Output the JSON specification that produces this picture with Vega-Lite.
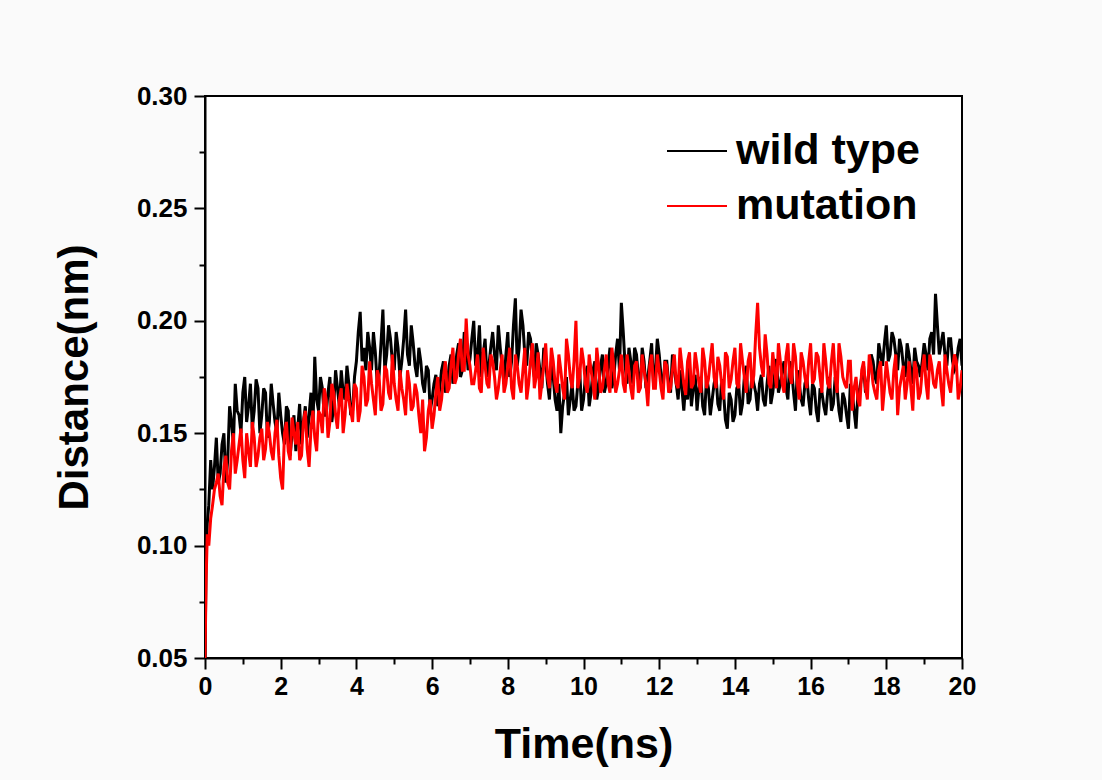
{
  "$schema": "https://vega.github.io/schema/vega-lite/v6.json",
  "autosize": "none",
  "width": 757,
  "height": 562,
  "padding": {"left": 205, "top": 96, "right": 140, "bottom": 122},
  "background": "#fafafa",
  "config": {
    "view": {"stroke": "#000000", "strokeWidth": 2, "fill": "#ffffff"},
    "font": "Liberation Sans"
  },
  "data": {
    "values": [
      {"t":0,"w":0.050,"m":0.050},{"t":0.03,"w":0.095,"m":0.085},{"t":0.06,"w":0.110,"m":0.105},
      {"t":0.1,"w":0.118,"m":0.100},{"t":0.15,"w":0.138,"m":0.112},
      {"t":0.2,"w":0.125,"m":0.118},{"t":0.25,"w":0.135,"m":0.125},
      {"t":0.3,"w":0.148,"m":0.128},{"t":0.35,"w":0.128,"m":0.132},
      {"t":0.4,"w":0.132,"m":0.122},{"t":0.45,"w":0.145,"m":0.118},
      {"t":0.5,"w":0.150,"m":0.135},{"t":0.55,"w":0.128,"m":0.140},
      {"t":0.6,"w":0.138,"m":0.128},{"t":0.65,"w":0.162,"m":0.125},
      {"t":0.7,"w":0.155,"m":0.142},{"t":0.75,"w":0.145,"m":0.150},
      {"t":0.8,"w":0.172,"m":0.132},{"t":0.85,"w":0.160,"m":0.138},
      {"t":0.9,"w":0.158,"m":0.145},{"t":0.95,"w":0.150,"m":0.152},
      {"t":1.0,"w":0.168,"m":0.138},{"t":1.05,"w":0.175,"m":0.130},
      {"t":1.1,"w":0.155,"m":0.150},{"t":1.15,"w":0.162,"m":0.142},
      {"t":1.2,"w":0.172,"m":0.135},{"t":1.25,"w":0.152,"m":0.155},
      {"t":1.3,"w":0.160,"m":0.148},{"t":1.35,"w":0.174,"m":0.135},
      {"t":1.4,"w":0.170,"m":0.140},{"t":1.45,"w":0.150,"m":0.148},
      {"t":1.5,"w":0.158,"m":0.152},{"t":1.55,"w":0.170,"m":0.138},
      {"t":1.6,"w":0.168,"m":0.143},{"t":1.65,"w":0.148,"m":0.155},
      {"t":1.7,"w":0.155,"m":0.150},{"t":1.75,"w":0.172,"m":0.142},
      {"t":1.8,"w":0.163,"m":0.138},{"t":1.85,"w":0.155,"m":0.150},
      {"t":1.9,"w":0.150,"m":0.156},{"t":1.95,"w":0.168,"m":0.140},
      {"t":2.0,"w":0.158,"m":0.130},{"t":2.05,"w":0.150,"m":0.125},
      {"t":2.1,"w":0.145,"m":0.150},{"t":2.15,"w":0.162,"m":0.155},
      {"t":2.2,"w":0.160,"m":0.142},{"t":2.25,"w":0.140,"m":0.138},
      {"t":2.3,"w":0.150,"m":0.157},{"t":2.35,"w":0.158,"m":0.150},
      {"t":2.4,"w":0.142,"m":0.145},{"t":2.45,"w":0.152,"m":0.155},
      {"t":2.5,"w":0.163,"m":0.138},{"t":2.55,"w":0.145,"m":0.140},
      {"t":2.6,"w":0.155,"m":0.155},{"t":2.65,"w":0.162,"m":0.160},
      {"t":2.7,"w":0.148,"m":0.143},{"t":2.75,"w":0.158,"m":0.135},
      {"t":2.8,"w":0.168,"m":0.152},{"t":2.85,"w":0.152,"m":0.160},
      {"t":2.9,"w":0.184,"m":0.148},{"t":2.95,"w":0.165,"m":0.142},
      {"t":3.0,"w":0.160,"m":0.160},{"t":3.05,"w":0.175,"m":0.158},
      {"t":3.1,"w":0.170,"m":0.150},{"t":3.15,"w":0.158,"m":0.170},
      {"t":3.2,"w":0.158,"m":0.165},{"t":3.25,"w":0.168,"m":0.148},
      {"t":3.3,"w":0.175,"m":0.155},{"t":3.35,"w":0.155,"m":0.172},
      {"t":3.4,"w":0.162,"m":0.168},{"t":3.45,"w":0.178,"m":0.158},
      {"t":3.5,"w":0.170,"m":0.152},{"t":3.55,"w":0.162,"m":0.165},
      {"t":3.6,"w":0.178,"m":0.170},{"t":3.65,"w":0.168,"m":0.150},
      {"t":3.7,"w":0.165,"m":0.158},{"t":3.75,"w":0.180,"m":0.172},
      {"t":3.8,"w":0.172,"m":0.165},{"t":3.85,"w":0.158,"m":0.160},
      {"t":3.9,"w":0.160,"m":0.155},{"t":3.95,"w":0.175,"m":0.172},
      {"t":4.0,"w":0.182,"m":0.170},{"t":4.05,"w":0.195,"m":0.155},
      {"t":4.1,"w":0.204,"m":0.160},{"t":4.15,"w":0.182,"m":0.180},
      {"t":4.2,"w":0.188,"m":0.175},{"t":4.25,"w":0.178,"m":0.162},
      {"t":4.3,"w":0.195,"m":0.165},{"t":4.35,"w":0.188,"m":0.182},
      {"t":4.4,"w":0.178,"m":0.172},{"t":4.45,"w":0.195,"m":0.165},
      {"t":4.5,"w":0.186,"m":0.158},{"t":4.55,"w":0.172,"m":0.178},
      {"t":4.6,"w":0.176,"m":0.175},{"t":4.65,"w":0.190,"m":0.160},
      {"t":4.7,"w":0.205,"m":0.163},{"t":4.75,"w":0.178,"m":0.180},
      {"t":4.8,"w":0.185,"m":0.178},{"t":4.85,"w":0.198,"m":0.168},
      {"t":4.9,"w":0.192,"m":0.165},{"t":4.95,"w":0.182,"m":0.185},
      {"t":5.0,"w":0.178,"m":0.172},{"t":5.05,"w":0.195,"m":0.165},
      {"t":5.1,"w":0.188,"m":0.160},{"t":5.15,"w":0.175,"m":0.178},
      {"t":5.2,"w":0.182,"m":0.170},{"t":5.25,"w":0.192,"m":0.165},
      {"t":5.3,"w":0.205,"m":0.158},{"t":5.35,"w":0.185,"m":0.178},
      {"t":5.4,"w":0.180,"m":0.172},{"t":5.45,"w":0.198,"m":0.160},
      {"t":5.5,"w":0.190,"m":0.162},{"t":5.55,"w":0.180,"m":0.172},
      {"t":5.6,"w":0.175,"m":0.168},{"t":5.65,"w":0.188,"m":0.158},
      {"t":5.7,"w":0.182,"m":0.150},{"t":5.75,"w":0.172,"m":0.165},
      {"t":5.8,"w":0.168,"m":0.142},{"t":5.85,"w":0.180,"m":0.148},
      {"t":5.9,"w":0.178,"m":0.160},{"t":5.95,"w":0.160,"m":0.165},
      {"t":6.0,"w":0.165,"m":0.152},{"t":6.05,"w":0.172,"m":0.158},
      {"t":6.1,"w":0.176,"m":0.168},{"t":6.15,"w":0.162,"m":0.175},
      {"t":6.2,"w":0.170,"m":0.160},{"t":6.25,"w":0.178,"m":0.165},
      {"t":6.3,"w":0.182,"m":0.175},{"t":6.35,"w":0.168,"m":0.182},
      {"t":6.4,"w":0.172,"m":0.168},{"t":6.45,"w":0.180,"m":0.170},
      {"t":6.5,"w":0.185,"m":0.180},{"t":6.55,"w":0.172,"m":0.188},
      {"t":6.6,"w":0.176,"m":0.172},{"t":6.65,"w":0.185,"m":0.175},
      {"t":6.7,"w":0.190,"m":0.185},{"t":6.75,"w":0.175,"m":0.192},
      {"t":6.8,"w":0.178,"m":0.178},{"t":6.85,"w":0.195,"m":0.178},
      {"t":6.9,"w":0.192,"m":0.201},{"t":6.95,"w":0.178,"m":0.185},
      {"t":7.0,"w":0.183,"m":0.180},{"t":7.05,"w":0.192,"m":0.172},
      {"t":7.1,"w":0.200,"m":0.172},{"t":7.15,"w":0.180,"m":0.178},
      {"t":7.2,"w":0.185,"m":0.185},{"t":7.25,"w":0.198,"m":0.170},
      {"t":7.3,"w":0.175,"m":0.168},{"t":7.35,"w":0.185,"m":0.188},
      {"t":7.4,"w":0.192,"m":0.180},{"t":7.45,"w":0.175,"m":0.172},
      {"t":7.5,"w":0.180,"m":0.170},{"t":7.55,"w":0.188,"m":0.185},
      {"t":7.6,"w":0.195,"m":0.182},{"t":7.65,"w":0.185,"m":0.175},
      {"t":7.7,"w":0.178,"m":0.165},{"t":7.75,"w":0.198,"m":0.170},
      {"t":7.8,"w":0.188,"m":0.178},{"t":7.85,"w":0.180,"m":0.185},
      {"t":7.9,"w":0.172,"m":0.168},{"t":7.95,"w":0.185,"m":0.172},
      {"t":8.0,"w":0.195,"m":0.180},{"t":8.05,"w":0.175,"m":0.188},
      {"t":8.1,"w":0.182,"m":0.170},{"t":8.15,"w":0.198,"m":0.165},
      {"t":8.2,"w":0.210,"m":0.185},{"t":8.25,"w":0.180,"m":0.180},
      {"t":8.3,"w":0.188,"m":0.172},{"t":8.35,"w":0.205,"m":0.168},
      {"t":8.4,"w":0.198,"m":0.178},{"t":8.45,"w":0.185,"m":0.188},
      {"t":8.5,"w":0.180,"m":0.165},{"t":8.55,"w":0.195,"m":0.172},
      {"t":8.6,"w":0.192,"m":0.182},{"t":8.65,"w":0.182,"m":0.190},
      {"t":8.7,"w":0.175,"m":0.170},{"t":8.75,"w":0.190,"m":0.175},
      {"t":8.8,"w":0.185,"m":0.186},{"t":8.85,"w":0.178,"m":0.165},
      {"t":8.9,"w":0.170,"m":0.172},{"t":8.95,"w":0.188,"m":0.180},
      {"t":9.0,"w":0.182,"m":0.190},{"t":9.05,"w":0.172,"m":0.175},
      {"t":9.1,"w":0.165,"m":0.170},{"t":9.15,"w":0.182,"m":0.188},
      {"t":9.2,"w":0.175,"m":0.182},{"t":9.25,"w":0.165,"m":0.172},
      {"t":9.3,"w":0.160,"m":0.168},{"t":9.35,"w":0.172,"m":0.185},
      {"t":9.4,"w":0.150,"m":0.178},{"t":9.45,"w":0.162,"m":0.170},
      {"t":9.5,"w":0.168,"m":0.165},{"t":9.55,"w":0.175,"m":0.192},
      {"t":9.6,"w":0.158,"m":0.185},{"t":9.65,"w":0.165,"m":0.175},
      {"t":9.7,"w":0.172,"m":0.170},{"t":9.75,"w":0.160,"m":0.182},
      {"t":9.8,"w":0.162,"m":0.200},{"t":9.85,"w":0.172,"m":0.170},
      {"t":9.9,"w":0.178,"m":0.175},{"t":9.95,"w":0.160,"m":0.188},
      {"t":10.0,"w":0.165,"m":0.182},{"t":10.05,"w":0.175,"m":0.172},
      {"t":10.1,"w":0.180,"m":0.168},{"t":10.15,"w":0.162,"m":0.185},
      {"t":10.2,"w":0.168,"m":0.178},{"t":10.25,"w":0.178,"m":0.172},
      {"t":10.3,"w":0.182,"m":0.165},{"t":10.35,"w":0.165,"m":0.188},
      {"t":10.4,"w":0.170,"m":0.180},{"t":10.45,"w":0.180,"m":0.168},
      {"t":10.5,"w":0.185,"m":0.170},{"t":10.55,"w":0.168,"m":0.178},
      {"t":10.6,"w":0.172,"m":0.185},{"t":10.65,"w":0.180,"m":0.172},
      {"t":10.7,"w":0.188,"m":0.168},{"t":10.75,"w":0.170,"m":0.188},
      {"t":10.8,"w":0.175,"m":0.180},{"t":10.85,"w":0.185,"m":0.168},
      {"t":10.9,"w":0.192,"m":0.172},{"t":10.95,"w":0.178,"m":0.178},
      {"t":11.0,"w":0.208,"m":0.185},{"t":11.05,"w":0.195,"m":0.172},
      {"t":11.1,"w":0.180,"m":0.168},{"t":11.15,"w":0.172,"m":0.185},
      {"t":11.2,"w":0.188,"m":0.178},{"t":11.25,"w":0.182,"m":0.170},
      {"t":11.3,"w":0.172,"m":0.165},{"t":11.35,"w":0.188,"m":0.180},
      {"t":11.4,"w":0.185,"m":0.182},{"t":11.45,"w":0.175,"m":0.168},
      {"t":11.5,"w":0.170,"m":0.170},{"t":11.55,"w":0.188,"m":0.185},
      {"t":11.6,"w":0.182,"m":0.178},{"t":11.65,"w":0.170,"m":0.172},
      {"t":11.7,"w":0.175,"m":0.162},{"t":11.75,"w":0.182,"m":0.180},
      {"t":11.8,"w":0.190,"m":0.185},{"t":11.85,"w":0.172,"m":0.170},
      {"t":11.9,"w":0.178,"m":0.170},{"t":11.95,"w":0.192,"m":0.185},
      {"t":12.0,"w":0.185,"m":0.178},{"t":12.05,"w":0.175,"m":0.170},
      {"t":12.1,"w":0.170,"m":0.165},{"t":12.15,"w":0.182,"m":0.182},
      {"t":12.2,"w":0.182,"m":0.180},{"t":12.25,"w":0.172,"m":0.168},
      {"t":12.3,"w":0.168,"m":0.170},{"t":12.35,"w":0.185,"m":0.178},
      {"t":12.4,"w":0.178,"m":0.185},{"t":12.45,"w":0.172,"m":0.172},
      {"t":12.5,"w":0.165,"m":0.170},{"t":12.55,"w":0.178,"m":0.188},
      {"t":12.6,"w":0.170,"m":0.180},{"t":12.65,"w":0.160,"m":0.172},
      {"t":12.7,"w":0.172,"m":0.167},{"t":12.75,"w":0.165,"m":0.182},
      {"t":12.8,"w":0.180,"m":0.186},{"t":12.85,"w":0.162,"m":0.170},
      {"t":12.9,"w":0.170,"m":0.172},{"t":12.95,"w":0.176,"m":0.186},
      {"t":13.0,"w":0.160,"m":0.180},{"t":13.05,"w":0.170,"m":0.172},
      {"t":13.1,"w":0.175,"m":0.168},{"t":13.15,"w":0.162,"m":0.188},
      {"t":13.2,"w":0.158,"m":0.182},{"t":13.25,"w":0.175,"m":0.170},
      {"t":13.3,"w":0.170,"m":0.174},{"t":13.35,"w":0.158,"m":0.182},
      {"t":13.4,"w":0.165,"m":0.190},{"t":13.45,"w":0.172,"m":0.175},
      {"t":13.5,"w":0.176,"m":0.170},{"t":13.55,"w":0.163,"m":0.184},
      {"t":13.6,"w":0.160,"m":0.180},{"t":13.65,"w":0.174,"m":0.172},
      {"t":13.7,"w":0.168,"m":0.165},{"t":13.75,"w":0.156,"m":0.186},
      {"t":13.8,"w":0.152,"m":0.184},{"t":13.85,"w":0.168,"m":0.170},
      {"t":13.9,"w":0.165,"m":0.174},{"t":13.95,"w":0.155,"m":0.182},
      {"t":14.0,"w":0.158,"m":0.188},{"t":14.05,"w":0.170,"m":0.172},
      {"t":14.1,"w":0.172,"m":0.170},{"t":14.15,"w":0.158,"m":0.190},
      {"t":14.2,"w":0.163,"m":0.182},{"t":14.25,"w":0.175,"m":0.175},
      {"t":14.3,"w":0.180,"m":0.168},{"t":14.35,"w":0.163,"m":0.182},
      {"t":14.4,"w":0.165,"m":0.186},{"t":14.45,"w":0.176,"m":0.170},
      {"t":14.5,"w":0.172,"m":0.176},{"t":14.55,"w":0.168,"m":0.194},
      {"t":14.6,"w":0.160,"m":0.208},{"t":14.65,"w":0.172,"m":0.188},
      {"t":14.7,"w":0.176,"m":0.180},{"t":14.75,"w":0.165,"m":0.175},
      {"t":14.8,"w":0.162,"m":0.194},{"t":14.85,"w":0.172,"m":0.185},
      {"t":14.9,"w":0.180,"m":0.172},{"t":14.95,"w":0.163,"m":0.170},
      {"t":15.0,"w":0.168,"m":0.186},{"t":15.05,"w":0.176,"m":0.178},
      {"t":15.1,"w":0.183,"m":0.170},{"t":15.15,"w":0.168,"m":0.190},
      {"t":15.2,"w":0.172,"m":0.182},{"t":15.25,"w":0.178,"m":0.172},
      {"t":15.3,"w":0.182,"m":0.168},{"t":15.35,"w":0.170,"m":0.184},
      {"t":15.4,"w":0.165,"m":0.190},{"t":15.45,"w":0.182,"m":0.175},
      {"t":15.5,"w":0.178,"m":0.172},{"t":15.55,"w":0.168,"m":0.190},
      {"t":15.6,"w":0.160,"m":0.184},{"t":15.65,"w":0.178,"m":0.172},
      {"t":15.7,"w":0.172,"m":0.165},{"t":15.75,"w":0.165,"m":0.186},
      {"t":15.8,"w":0.162,"m":0.182},{"t":15.85,"w":0.172,"m":0.175},
      {"t":15.9,"w":0.175,"m":0.170},{"t":15.95,"w":0.165,"m":0.182},
      {"t":16.0,"w":0.158,"m":0.190},{"t":16.05,"w":0.172,"m":0.172},
      {"t":16.1,"w":0.170,"m":0.174},{"t":16.15,"w":0.160,"m":0.186},
      {"t":16.2,"w":0.155,"m":0.184},{"t":16.25,"w":0.170,"m":0.175},
      {"t":16.3,"w":0.168,"m":0.168},{"t":16.35,"w":0.162,"m":0.190},
      {"t":16.4,"w":0.158,"m":0.182},{"t":16.45,"w":0.168,"m":0.172},
      {"t":16.5,"w":0.175,"m":0.170},{"t":16.55,"w":0.160,"m":0.182},
      {"t":16.6,"w":0.163,"m":0.190},{"t":16.65,"w":0.175,"m":0.175},
      {"t":16.7,"w":0.170,"m":0.168},{"t":16.75,"w":0.160,"m":0.190},
      {"t":16.8,"w":0.155,"m":0.184},{"t":16.85,"w":0.168,"m":0.175},
      {"t":16.9,"w":0.165,"m":0.172},{"t":16.95,"w":0.158,"m":0.170},
      {"t":17.0,"w":0.152,"m":0.182},{"t":17.05,"w":0.172,"m":0.182},
      {"t":17.1,"w":0.168,"m":0.160},{"t":17.15,"w":0.160,"m":0.170},
      {"t":17.2,"w":0.152,"m":0.175},{"t":17.25,"w":0.168,"m":0.165},
      {"t":17.3,"w":0.170,"m":0.162},{"t":17.35,"w":0.175,"m":0.178},
      {"t":17.4,"w":0.180,"m":0.182},{"t":17.45,"w":0.168,"m":0.170},
      {"t":17.5,"w":0.172,"m":0.165},{"t":17.55,"w":0.178,"m":0.185},
      {"t":17.6,"w":0.185,"m":0.180},{"t":17.65,"w":0.182,"m":0.172},
      {"t":17.7,"w":0.175,"m":0.168},{"t":17.75,"w":0.172,"m":0.165},
      {"t":17.8,"w":0.190,"m":0.178},{"t":17.85,"w":0.185,"m":0.182},
      {"t":17.9,"w":0.180,"m":0.160},{"t":17.95,"w":0.190,"m":0.170},
      {"t":18.0,"w":0.198,"m":0.182},{"t":18.05,"w":0.182,"m":0.175},
      {"t":18.1,"w":0.185,"m":0.168},{"t":18.15,"w":0.195,"m":0.165},
      {"t":18.2,"w":0.192,"m":0.178},{"t":18.25,"w":0.185,"m":0.185},
      {"t":18.3,"w":0.178,"m":0.158},{"t":18.35,"w":0.192,"m":0.170},
      {"t":18.4,"w":0.188,"m":0.175},{"t":18.45,"w":0.180,"m":0.180},
      {"t":18.5,"w":0.175,"m":0.165},{"t":18.55,"w":0.190,"m":0.172},
      {"t":18.6,"w":0.185,"m":0.182},{"t":18.65,"w":0.178,"m":0.170},
      {"t":18.7,"w":0.172,"m":0.160},{"t":18.75,"w":0.188,"m":0.182},
      {"t":18.8,"w":0.182,"m":0.178},{"t":18.85,"w":0.180,"m":0.165},
      {"t":18.9,"w":0.175,"m":0.168},{"t":18.95,"w":0.182,"m":0.178},
      {"t":19.0,"w":0.190,"m":0.185},{"t":19.05,"w":0.185,"m":0.172},
      {"t":19.1,"w":0.178,"m":0.165},{"t":19.15,"w":0.192,"m":0.185},
      {"t":19.2,"w":0.195,"m":0.180},{"t":19.25,"w":0.185,"m":0.172},
      {"t":19.3,"w":0.212,"m":0.170},{"t":19.35,"w":0.198,"m":0.178},
      {"t":19.4,"w":0.185,"m":0.182},{"t":19.45,"w":0.190,"m":0.170},
      {"t":19.5,"w":0.195,"m":0.162},{"t":19.55,"w":0.185,"m":0.185},
      {"t":19.6,"w":0.180,"m":0.178},{"t":19.65,"w":0.192,"m":0.172},
      {"t":19.7,"w":0.192,"m":0.168},{"t":19.75,"w":0.182,"m":0.178},
      {"t":19.8,"w":0.178,"m":0.185},{"t":19.85,"w":0.180,"m":0.182},
      {"t":19.9,"w":0.188,"m":0.165},{"t":19.95,"w":0.192,"m":0.170},
      {"t":20.0,"w":0.180,"m":0.178}
    ]
  },
  "transform": [
    {"fold": ["w", "m"], "as": ["key", "value"]},
    {"calculate": "datum.key === 'w' ? 'wild type' : ' mutation'", "as": "series"}
  ],
  "encoding": {
    "x": {
      "field": "t", "type": "quantitative",
      "scale": {"domain": [0, 20], "nice": false, "zero": false},
      "axis": {
        "title": "Time(ns)",
        "values": [0,1,2,3,4,5,6,7,8,9,10,11,12,13,14,15,16,17,18,19,20],
        "labelExpr": "datum.value % 2 === 0 ? datum.label : ''",
        "grid": false,
        "domainColor": "#000000", "domainWidth": 2,
        "tickColor": "#000000", "tickWidth": 2,
        "tickSize": {"condition": {"test": "datum.value % 2 === 0", "value": 11}, "value": 6},
        "labelFont": "Liberation Sans", "labelFontSize": 25, "labelFontWeight": "bold", "labelColor": "#000000",
        "labelPadding": 5, "labelFlush": false, "labelOverlap": false,
        "titleFont": "Liberation Sans", "titleFontSize": 43, "titleFontWeight": "bold", "titleColor": "#000000",
        "titlePadding": 24
      }
    },
    "y": {
      "field": "value", "type": "quantitative",
      "scale": {"domain": [0.05, 0.30], "nice": false, "zero": false},
      "axis": {
        "title": "Distance(nm)",
        "values": [0.05,0.075,0.10,0.125,0.15,0.175,0.20,0.225,0.25,0.275,0.30],
        "format": ".2f",
        "labelExpr": "abs(round(datum.value*20) - datum.value*20) < 0.01 ? datum.label : ''",
        "grid": false,
        "domainColor": "#000000", "domainWidth": 2,
        "tickColor": "#000000", "tickWidth": 2,
        "tickSize": {"condition": {"test": "abs(round(datum.value*20) - datum.value*20) < 0.01", "value": 11}, "value": 6},
        "labelFont": "Liberation Sans", "labelFontSize": 26, "labelFontWeight": "bold", "labelColor": "#000000",
        "labelPadding": 7, "labelFlush": false, "labelOverlap": false,
        "titleFont": "Liberation Sans", "titleFontSize": 42, "titleFontWeight": "bold", "titleColor": "#000000",
        "titlePadding": 40
      }
    },
    "color": {
      "field": "series", "type": "nominal",
      "scale": {"domain": ["wild type", " mutation"], "range": ["#000000", "#ff0000"]},
      "legend": {
        "title": null,
        "orient": "none",
        "legendX": 461,
        "legendY": 24,
        "symbolType": "stroke",
        "symbolSize": 3600,
        "symbolStrokeWidth": 2,
        "labelFont": "Liberation Sans",
        "labelFontSize": 43,
        "labelFontWeight": "bold",
        "labelColor": "#000000",
        "labelOffset": 8,
        "rowPadding": 2,
        "padding": 0,
        "labelLimit": 400
      }
    }
  },
  "layer": [
    {
      "transform": [{"filter": "datum.key === 'w'"}],
      "mark": {"type": "line", "strokeWidth": 3, "clip": true}
    },
    {
      "transform": [{"filter": "datum.key === 'm'"}],
      "mark": {"type": "line", "strokeWidth": 3, "clip": true}
    }
  ]
}
